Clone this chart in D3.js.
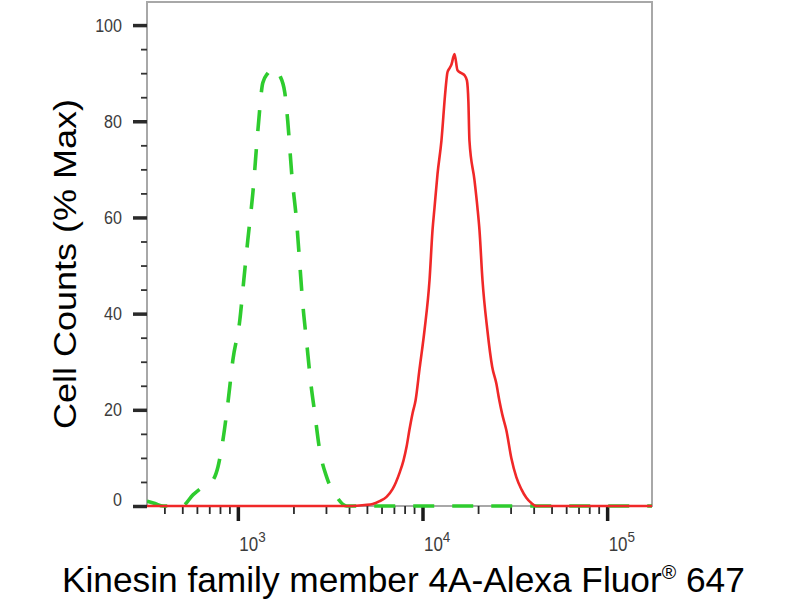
<!DOCTYPE html>
<html>
<head>
<meta charset="utf-8">
<script src="https://cdn.jsdelivr.net/npm/d3@7"></script>
<style>
  html, body { margin: 0; padding: 0; background: #fff; }
  svg { display: block; font-family: "Liberation Sans", Arial, sans-serif; }
</style>
</head>
<body>
<svg id="chart" width="800" height="600"></svg>
<script>
// ---- data ----
const greenX = [322, 356, 394, 498, 571, 647, 733, 780, 830, 883, 940, 1025, 1077, 1132, 1205, 1283, 1365, 1453, 1546, 1686, 1795, 1863, 1958, 2084, 2163, 2245, 2360, 2483, 2609, 2775, 3028, 3429, 3882, 175000];
const greenY = [1.0, 0.5, 0, 0, 2.3, 4.0, 5.4, 8.1, 13.7, 21.4, 30.4, 38.7, 47, 55.3, 65, 78, 88, 90, 91, 89.5, 86, 80, 69, 58.8, 50.5, 42.2, 33.9, 25.6, 19.3, 11.6, 6, 1.9, 0, 0];

const redX = [322, 4188, 4856, 5370, 5859, 6387, 6883, 7512, 7893, 8197, 8511, 8837, 9176, 9637, 10258, 10918, 11333, 11614, 12058, 12666, 13318, 13655, 13999, 14352, 14901, 15472, 16245, 16866, 17398, 17727, 17957, 19115, 19848, 20348, 21128, 22452, 23860, 25099, 26061, 27060, 28438, 30271, 32224, 34302, 36513, 38867, 41374, 175000];
const redY = [0, 0, 0.2, 0.4, 1.0, 1.9, 3.5, 6.9, 9.5, 12.3, 16, 19.3, 22, 28.5, 36.6, 47, 57.4, 62, 69, 76, 86.5, 90.2, 91, 91.8, 94, 90.6, 90, 89.6, 88.5, 84, 76, 67.8, 62, 57.4, 47, 36.6, 28.9, 25.5, 22, 19, 15.8, 10, 6, 3.5, 1.7, 0.6, 0, 0];

const yMajor = [0, 20, 40, 60, 80, 100];
const yMinor = [5, 10, 15, 25, 30, 35, 45, 50, 55, 65, 70, 75, 85, 90, 95];
const xMajor = [1e3, 1e4, 1e5];
const xMajorExp = ["3", "4", "5"];
const xMinor = [400, 500, 600, 700, 800, 900, 2000, 3000, 4000, 5000, 6000, 7000, 8000, 9000, 20000, 30000, 40000, 50000, 60000, 70000, 80000, 90000];

const yTitle = "Cell Counts (% Max)";
const xTitleMain = "Kinesin family member 4A-Alexa Fluor";
const xTitleSup = "®";
const xTitleEnd = " 647";

// ---- layout ----
const svg = d3.select("#chart");
const pL = 147, pR = 652, pT = 2, pB = 506;
const sx = 0.87; // horizontal text compression seen in reference

const x = d3.scaleLog().domain([322, 175000]).range([pL, pR]);
const y = d3.scaleLinear().domain([0, 104.8]).range([pB, pT]);

svg.append("defs").append("clipPath").attr("id", "clip")
  .append("rect").attr("x", pL).attr("y", pT - 2).attr("width", pR - pL).attr("height", pB - pT + 4);

// frame
svg.append("rect")
  .attr("x", pL).attr("y", pT).attr("width", pR - pL).attr("height", pB - pT)
  .attr("fill", "none").attr("stroke", "#a8a8a8").attr("stroke-width", 2);

// y axis ticks
const yAxisMajor = d3.axisLeft(y).tickValues(yMajor).tickSize(14).tickFormat("");
const yAxisMinor = d3.axisLeft(y).tickValues(yMinor).tickSize(6).tickFormat("");
const gyM = svg.append("g").attr("transform", `translate(${pL},0)`).call(yAxisMajor);
const gym = svg.append("g").attr("transform", `translate(${pL},0)`).call(yAxisMinor);
[gyM, gym].forEach(g => g.select(".domain").remove());
gyM.selectAll(".tick line").attr("stroke", "#2a2a2a").attr("stroke-width", 3.5);
gym.selectAll(".tick line").attr("stroke", "#333").attr("stroke-width", 1.8);

// y tick labels
svg.append("g").selectAll("text").data(yMajor).join("text")
  .attr("transform", d => `translate(122,${y(d) + 6.5 - (d === 0 ? 7 : 0)}) scale(${sx},1)`)
  .attr("text-anchor", "end")
  .attr("font-size", 18.5)
  .attr("fill", "#3c3c3c")
  .text(d => d);

// x axis ticks
const xAxisMajor = d3.axisBottom(x).tickValues(xMajor).tickSize(15).tickFormat("");
const xAxisMinor = d3.axisBottom(x).tickValues(xMinor).tickSize(8).tickFormat("");
const gxM = svg.append("g").attr("transform", `translate(0,${pB})`).call(xAxisMajor);
const gxm = svg.append("g").attr("transform", `translate(0,${pB})`).call(xAxisMinor);
[gxM, gxm].forEach(g => g.select(".domain").remove());
gxM.selectAll(".tick line").attr("stroke", "#1a1a1a").attr("stroke-width", 3.5);
gxm.selectAll(".tick line").attr("stroke", "#2a2a2a").attr("stroke-width", 1.8);

// x tick labels (10^n)
const xl = svg.append("g").selectAll("text").data(xMajor).join("text")
  .attr("transform", d => `translate(${x(d) + 1.5},551) scale(${sx},1)`)
  .attr("font-size", 19.5)
  .attr("fill", "#3c3c3c");
xl.append("tspan").text("10");
xl.append("tspan").attr("font-size", 15.5).attr("dy", -9).text((d, i) => xMajorExp[i]);

// curves
const line = d3.line().x(d => x(d[0])).y(d => y(d[1])).curve(d3.curveMonotoneX);
const plot = svg.append("g").attr("clip-path", "url(#clip)");
plot.append("path")
  .datum(greenX.map((v, i) => [v, greenY[i]]))
  .attr("d", line)
  .attr("fill", "none")
  .attr("stroke", "#2ecc2e")
  .attr("stroke-width", 3.6)
  .attr("stroke-dasharray", "21,18");
plot.append("path")
  .datum(redX.map((v, i) => [v, redY[i]]))
  .attr("d", line)
  .attr("fill", "none")
  .attr("stroke", "#f02828")
  .attr("stroke-width", 2.6)
  .attr("stroke-linejoin", "round");

// axis titles
svg.append("text")
  .attr("transform", `translate(76,264) scale(${sx},1) rotate(-90)`)
  .attr("text-anchor", "middle")
  .attr("font-size", 36)
  .attr("fill", "#000")
  .text(yTitle);

const xt = svg.append("text")
  .attr("transform", `translate(62,592) scale(0.98,1)`)
  .attr("font-size", 36)
  .attr("fill", "#000");
xt.append("tspan").text(xTitleMain);
xt.append("tspan").attr("font-size", 20).attr("dy", -13).text(xTitleSup);
xt.append("tspan").attr("dy", 13).text(xTitleEnd);
</script>
</body>
</html>
